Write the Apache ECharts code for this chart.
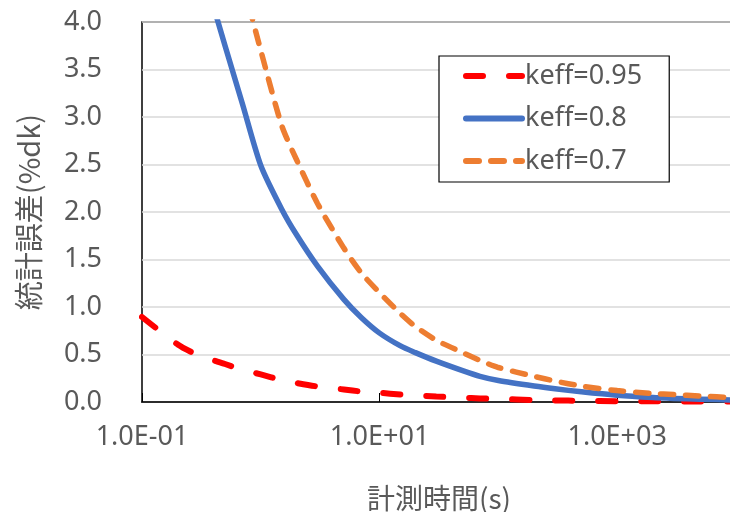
<!DOCTYPE html>
<html>
<head>
<meta charset="utf-8">
<script src="https://cdn.jsdelivr.net/npm/echarts@6/dist/echarts.min.js"></script>
<style>html,body{margin:0;padding:0;background:#fff}#c{width:730px;height:512px}</style>
</head>
<body>
<div id="c"></div>
<script>
// Measurement time (s)
const times = [0.1, 0.2, 0.3, 0.5, 0.7, 1, 1.5, 2, 3, 5, 7, 10, 15, 20, 30, 50, 70, 100, 200, 300, 500, 1000, 2000, 3000, 5000, 10000];
// Statistical error (%dk)
const keff095 = [0.895, 0.605, 0.49, 0.40, 0.34, 0.29, 0.23, 0.20, 0.163, 0.132, 0.11, 0.097, 0.079, 0.07, 0.058, 0.046, 0.038, 0.032, 0.021, 0.017, 0.013, 0.009, 0.007, 0.006, 0.005, 0.004];
const keff08 = [6.67, 5.41, 4.69, 3.75, 3.14, 2.49, 2.03, 1.76, 1.43, 1.08, 0.89, 0.725, 0.59, 0.52, 0.43, 0.33, 0.27, 0.226, 0.168, 0.139, 0.107, 0.071, 0.047, 0.038, 0.029, 0.021];
const keff07 = [8.49, 7.05, 6.2, 5.14, 4.43, 3.70, 2.91, 2.55, 2.09, 1.62, 1.36, 1.15, 0.93, 0.795, 0.65, 0.52, 0.437, 0.363, 0.27, 0.22, 0.168, 0.12, 0.089, 0.078, 0.063, 0.044];
const seriesNames = ['keff=0.95', 'keff=0.8', 'keff=0.7'];
const yAxisTitle = '統計誤差(%dk)';
const xAxisTitle = '計測時間(s)';

function pairs(vals) { return times.map((t, i) => [t, vals[i]]); }
function fmtExp(v) {
  const e = Math.round(Math.log10(v));
  const sign = e < 0 ? '-' : '+';
  const a = Math.abs(e);
  return '1.0E' + sign + (a < 10 ? '0' + a : '' + a);
}

const txt = '#595959';
const font = '"Noto Sans", sans-serif';
const cjk = '"Noto Sans CJK JP", "Noto Sans", sans-serif';

const chart = echarts.init(document.getElementById('c'), null, {renderer: 'canvas'});
chart.setOption({
  animation: false,
  backgroundColor: '#fff',
  grid: {
    left: 142, top: 22, width: 594, height: 380,
    show: true, borderColor: '#000', borderWidth: 1.5,
    containLabel: false, outerBoundsMode: 'none'
  },
  legend: {
    orient: 'vertical',
    left: 439, top: 56,
    padding: [5, 27, 6, 24],
    itemWidth: 56, itemHeight: 20, itemGap: 12.5,
    borderColor: '#000', borderWidth: 1.2,
    backgroundColor: '#fff',
    itemStyle: {opacity: 0, color: 'rgba(0,0,0,0)', borderWidth: 0},
    lineStyle: {width: 6},
    textStyle: {color: txt, fontSize: 27, fontFamily: font, lineHeight: 30, padding: [0, 0, 0, -2]},
    data: seriesNames
  },
  xAxis: {
    type: 'log', logBase: 10,
    min: 0.1, max: 10000, interval: 2,
    name: xAxisTitle, nameLocation: 'middle', nameGap: 82,
    nameTextStyle: {color: txt, fontSize: 28, fontFamily: cjk},
    axisLine: {show: true, lineStyle: {color: '#000', width: 1.5}},
    axisTick: {show: true, inside: true, length: 9, lineStyle: {color: '#000', width: 1}},
    axisLabel: {color: txt, fontSize: 27, fontFamily: font, margin: 22, showMaxLabel: false, formatter: fmtExp},
    splitLine: {show: false},
    minorTick: {show: false}
  },
  yAxis: {
    type: 'value', min: 0, max: 4, interval: 0.5,
    name: yAxisTitle, nameLocation: 'middle', nameGap: 99, nameRotate: 90,
    nameTextStyle: {color: txt, fontSize: 29, fontFamily: cjk},
    axisLine: {show: false},
    axisTick: {show: false},
    axisLabel: {color: txt, fontSize: 27, fontFamily: font, margin: 40, formatter: v => v.toFixed(1)},
    splitLine: {show: true, lineStyle: {color: '#D9D9D9', width: 1.5}}
  },
  series: [
    {
      name: seriesNames[0], type: 'line', data: pairs(keff095), smooth: 0.25,
      symbol: 'none', color: '#FF0000', z: 3,
      lineStyle: {color: '#FF0000', width: 6, type: [17, 26], cap: 'round'}
    },
    {
      name: seriesNames[1], type: 'line', data: pairs(keff08), smooth: 0.25,
      symbol: 'none', color: '#4472C4', z: 4,
      lineStyle: {color: '#4472C4', width: 5.5, type: 'solid', cap: 'round', join: 'round'}
    },
    {
      name: seriesNames[2], type: 'line', data: pairs(keff07), smooth: 0.25,
      symbol: 'none', color: '#ED7D31', z: 5,
      lineStyle: {color: '#ED7D31', width: 5.5, type: [13, 12], cap: 'round'}
    }
  ]
});
</script>
</body>
</html>
